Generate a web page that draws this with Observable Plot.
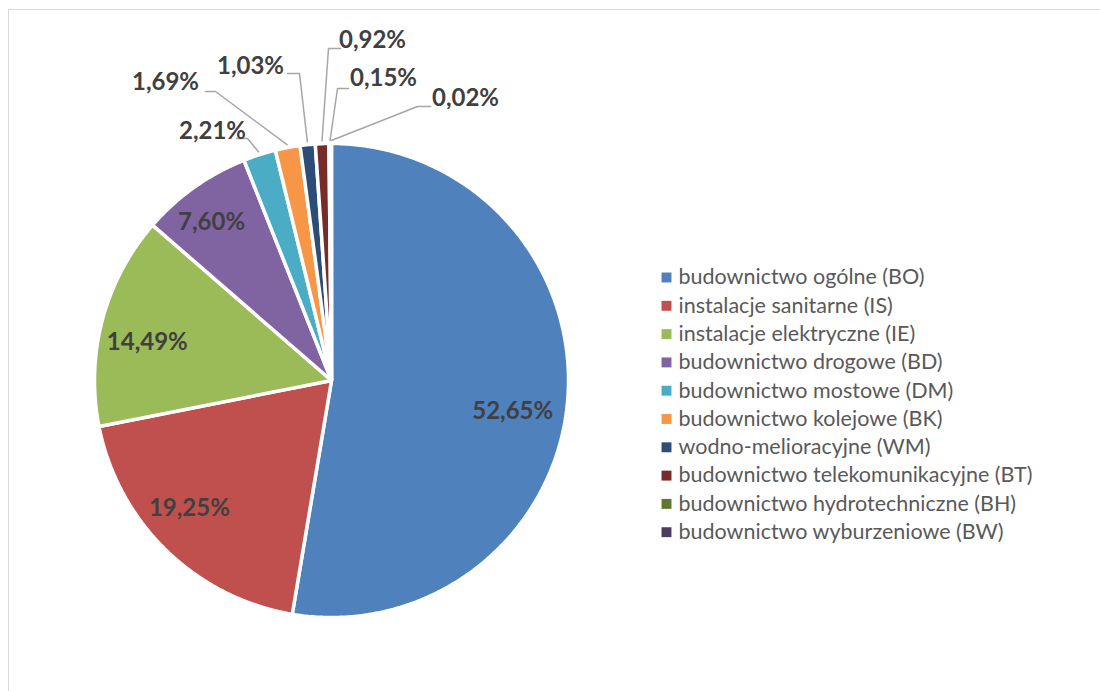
<!DOCTYPE html>
<html>
<head>
<meta charset="utf-8">
<script src="https://cdn.jsdelivr.net/npm/d3@7"></script>
<script src="https://cdn.jsdelivr.net/npm/@observablehq/plot@0.6"></script>
<style>
  html, body { margin: 0; padding: 0; background: #fff; }
  #chart { position: relative; width: 1100px; height: 691px; overflow: hidden; }
  #frame { position: absolute; left: 8px; top: 9px; width: 1200px; height: 800px; border: 1.5px solid #d9d9d9; box-sizing: border-box; pointer-events: none; }
</style>
</head>
<body>
<div id="chart"><div id="frame"></div></div>
<script>
// ---- data ----
const categories = [
  "budownictwo ogólne (BO)",
  "instalacje sanitarne (IS)",
  "instalacje elektryczne (IE)",
  "budownictwo drogowe (BD)",
  "budownictwo mostowe (DM)",
  "budownictwo kolejowe (BK)",
  "wodno-melioracyjne (WM)",
  "budownictwo telekomunikacyjne (BT)",
  "budownictwo hydrotechniczne (BH)",
  "budownictwo wyburzeniowe (BW)"
];
const shares = [52.65, 19.25, 14.49, 7.60, 2.21, 1.69, 1.03, 0.92, 0.15, 0.02];
const labels = ["52,65%", "19,25%", "14,49%", "7,60%", "2,21%", "1,69%", "1,03%", "0,92%", "0,15%", "0,02%"];
const colors = ["#4F81BD", "#C0504D", "#9BBB59", "#8064A2", "#4BACC6", "#F79646", "#2C4D75", "#772C2A", "#5F7530", "#4D3B62"];

// ---- layout (pixel units) ----
const cx = 331, cy = 380, R = 237;
const insideRadius = [0.78, 0.8, 0.8, 0.78];
const insideNudge = [[-3, 15], [-10, -8], [-1, 11], [-13, -7]];
// outside labels: text centre, leader start, leader elbow
const outsideText = [[212,131],[165,82],[250,66],[372,40],[383,78],[465,98]];
const leaderStart = [[236,138],[205,91],[287,73],[340,48],[348,88],[430,106]];
const leaderElbow = [[247,138],[215,91],[299,73],[328,48],[337,88],[417,106]];
const labelFont = "Lato, 'Open Sans', sans-serif";

const pie = d3.pie().sort(null).value(d => d)(shares);
const pt = (a, r) => [cx + r * Math.sin(a), cy - r * Math.cos(a)];

const marks = [];
// slices
pie.forEach((s, i) => {
  const pts = [[cx, cy]];
  const n = Math.max(2, Math.ceil((s.endAngle - s.startAngle) / 0.01));
  for (let k = 0; k <= n; k++) {
    const a = s.startAngle + (s.endAngle - s.startAngle) * k / n;
    pts.push(pt(a, R));
  }
  marks.push(Plot.line(pts, {x: d => d[0], y: d => d[1], curve: "linear-closed",
    fill: colors[i], stroke: "white", strokeWidth: 3.5, strokeLinejoin: "miter"}));
});

// inside labels
const inside = pie.slice(0, 4).map((s, i) => {
  const m = (s.startAngle + s.endAngle) / 2;
  const p = pt(m, R * insideRadius[i]);
  return {x: p[0] + insideNudge[i][0], y: p[1] + insideNudge[i][1], t: labels[i]};
});
marks.push(Plot.text(inside, {x: "x", y: "y", text: "t", fill: "#404040",
  fontSize: 24, fontWeight: "bold", fontFamily: labelFont}));

// outside labels + leaders
const outside = pie.slice(4).map((s, j) => {
  const m = (s.startAngle + s.endAngle) / 2;
  const end = pt(m, R + 3);
  return {text: outsideText[j], start: leaderStart[j], elbow: leaderElbow[j], end, t: labels[j + 4]};
});
outside.forEach(o => {
  marks.push(Plot.line([o.start, o.elbow, o.end], {x: d => d[0], y: d => d[1],
    stroke: "#a6a6a6", strokeWidth: 1.5}));
});
marks.push(Plot.text(outside, {x: d => d.text[0], y: d => d.text[1], text: "t", fill: "#404040",
  fontSize: 24, fontWeight: "bold", fontFamily: labelFont}));

// legend
const legendX = 666, legendY0 = 277, legendStep = 28.3;
const legend = categories.map((c, i) => ({c, i}));
marks.push(Plot.dot(legend, {x: () => legendX, y: d => legendY0 + d.i * legendStep,
  symbol: "square", r: 5.6, fill: d => colors[d.i], stroke: null}));
marks.push(Plot.text(legend, {x: () => legendX + 12, y: d => legendY0 + d.i * legendStep, text: "c",
  textAnchor: "start", fill: "#595959", fontSize: 21.5, fontFamily: labelFont}));

const chart = Plot.plot({
  width: 1100, height: 691,
  margin: 0,
  x: {domain: [0, 1100], range: [0, 1100], axis: null},
  y: {domain: [0, 691], range: [0, 691], axis: null},
  color: {type: "identity"},
  style: {background: "transparent", overflow: "visible"},
  marks
});
document.getElementById("chart").prepend(chart);
</script>
</body>
</html>
